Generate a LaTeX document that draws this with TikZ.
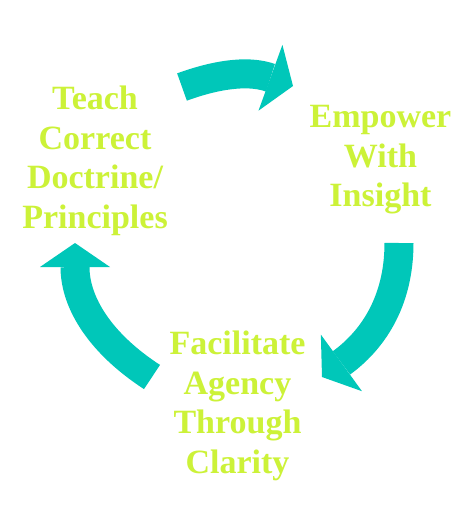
\documentclass[tikz,border=0pt]{standalone}
\usepackage{fontspec}
\setmainfont{Liberation Serif}
\usepackage{xcolor}
\usepackage{tikz}
\usetikzlibrary{arrows.meta}
\definecolor{arrowteal}{RGB}{0,199,185}
\definecolor{stagegreen}{RGB}{204,242,56}
\tikzset{
  cyclearrow/.style={line width=29pt, draw=arrowteal, line cap=butt,
    -{Triangle[width=70pt,length=24pt,line width=0pt]}},
  stagetext/.style={text=stagegreen, inner sep=0pt, align=center,
    font=\bfseries\fontsize{34}{39.5}\selectfont},
}

\begin{document}
\begin{tikzpicture}[x=1pt,y=1pt]
\useasboundingbox[fill=white] (0,0) rectangle (473,-528);
% stages of the cycle
\node[stagetext, anchor=north] (teach) at (95,-86) {Teach\\Correct\\Doctrine/\\Principles};
\node[stagetext, anchor=north] (empower) at (380.5,-105.5) {Empower\\With\\Insight};
\node[stagetext, anchor=north] (facilitate) at (237.5,-331) {Facilitate\\Agency\\Through\\Clarity};
% arrow ends
\coordinate (teachout) at (182,-87);
\coordinate (empowerin) at (293,-86);
\coordinate (empowerout) at (399,-243);
\coordinate (facilitatein) at (322,-377);
\coordinate (facilitateout) at (152,-377);
\coordinate (teachin) at (75,-243);
% arrows
\draw[cyclearrow] (teachout) to[out=20,in=160] (empowerin);
\draw[cyclearrow] (empowerout) to[out=-90,in=36] (facilitatein);
\draw[cyclearrow] (facilitateout) to[out=147,in=-90] (teachin);
\end{tikzpicture}
\end{document}
